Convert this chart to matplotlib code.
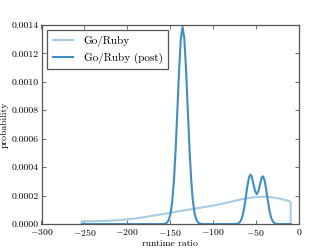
import numpy as np
import matplotlib
matplotlib.use('Agg')
import matplotlib.pyplot as plt
from matplotlib.ticker import FormatStrFormatter, MultipleLocator

# values (y in units of 1e-4)
ruby_x = [-253, -253, -240, -225, -210, -200, -190, -180, -170, -160, -150, -140,
          -130, -120, -110, -100, -90, -80, -70, -60, -50, -40, -30, -20, -12,
          -9.5, -9.5]
ruby_y = [0.0, 0.19, 0.20, 0.23, 0.28, 0.33, 0.40, 0.49, 0.59, 0.69, 0.80, 0.90,
          1.00, 1.10, 1.20, 1.30, 1.42, 1.56, 1.70, 1.82, 1.90, 1.93, 1.88, 1.76,
          1.62, 1.56, 0.0]

post_x = [-253, -160, -157.5, -155.5, -153.5, -151.5, -149.5, -147.5, -145.5,
          -143.5, -141.5, -139.5, -137.5, -135.5, -133.5, -131.5, -129.5, -127.5,
          -125.5, -123.5, -121.5, -119.5, -117.5, -115.5, -113.5, -111,
          -78, -76, -72, -70, -68, -66, -64, -62, -60, -58, -56.5, -55, -53, -51,
          -49, -47, -45, -43, -41.8, -40, -38, -36, -34, -32, -30, -28, -26, -24,
          -9.5]
post_y = [0.0, 0.0, 0.01, 0.04, 0.11, 0.31, 0.75, 1.63, 3.13,
          5.35, 8.10, 10.9, 13.05, 13.85, 13.05, 10.9, 8.10, 5.35,
          3.13, 1.63, 0.75, 0.31, 0.11, 0.04, 0.01, 0.0,
          0.0, 0.001, 0.019, 0.066, 0.195, 0.486, 1.02, 1.79, 2.65, 3.30, 3.48,
          3.36, 2.86, 2.32, 2.10, 2.34, 2.86, 3.30, 3.36, 3.11, 2.43, 1.61, 0.89,
          0.41, 0.16, 0.053, 0.015, 0.003, 0.0]

plt.rcParams['font.family'] = 'cmr10'
plt.rcParams['mathtext.fontset'] = 'cm'
plt.rcParams['axes.formatter.use_mathtext'] = True

fig = plt.figure(figsize=(3.32, 2.49), dpi=100)
ax = fig.add_axes([0.125, 0.1, 0.775, 0.8])

ax.plot(ruby_x, np.array(ruby_y) * 1e-4, color='#a6cee3', lw=1.5, label='Go/Ruby')
ax.plot(post_x, np.array(post_y) * 1e-4, color='#3f8ec5', lw=1.5, label='Go/Ruby (post)')

ax.set_xlim(-300, 0)
ax.set_ylim(0, 0.0014)
ax.xaxis.set_major_locator(MultipleLocator(50))
ax.yaxis.set_major_locator(MultipleLocator(0.0002))
ax.yaxis.set_major_formatter(FormatStrFormatter('%.4f'))
ax.tick_params(direction='in', length=3, width=0.6, top=True, right=True,
               labelsize=7, pad=2, color='#555555')
for s in ax.spines.values():
    s.set_color('#555555')
    s.set_linewidth(0.9)

ax.set_xlabel('runtime ratio', fontsize=7, labelpad=1.5)
ax.set_ylabel('probability', fontsize=7, labelpad=2)

leg = ax.legend(loc='upper left', fontsize=8, fancybox=False, framealpha=1,
                handlelength=1.8, handletextpad=1.0, borderaxespad=0.5,
                labelspacing=0.5, borderpad=0.5)
leg.get_frame().set_edgecolor('#555555')
leg.get_frame().set_linewidth(0.9)

fig.savefig('out.png', dpi=100)
